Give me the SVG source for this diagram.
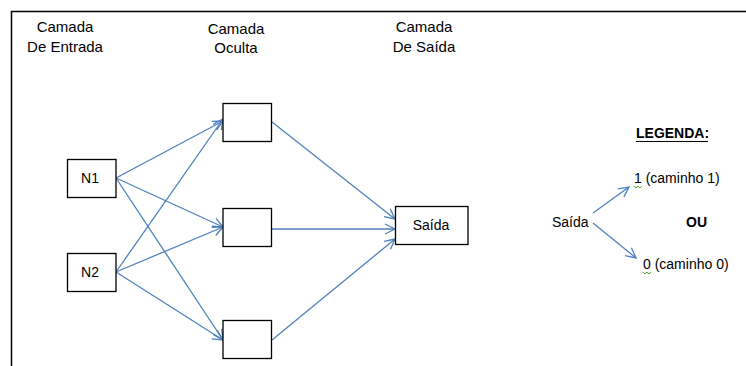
<svg xmlns="http://www.w3.org/2000/svg" width="746" height="366" viewBox="0 0 746 366">
<defs>
<style>
text{font-family:"Liberation Sans",Arial,sans-serif;font-size:14px;fill:#000}
.h{font-size:15px}
.c{text-anchor:middle}
.b{font-weight:bold}
.box{fill:#fff;stroke:#000;stroke-width:1.3}
.edge{stroke:#4F81BD;stroke-width:1.3;fill:none;marker-end:url(#ah)}
.sq{stroke:#5AA02C;stroke-width:1;fill:none}
</style>
<marker id="ah" viewBox="0 0 12 12" refX="11" refY="6" markerWidth="12" markerHeight="12" markerUnits="userSpaceOnUse" orient="auto">
<path d="M1,1 L11,6 L1,11" fill="none" stroke="#4F81BD" stroke-width="1.3"/>
</marker>
</defs>
<rect width="746" height="366" fill="#fff"/>
<path d="M11.5,372 V11.5 H752" fill="none" stroke="#000" stroke-width="1.5"/>
<g id="headers">
<text class="c h" x="65" y="32">Camada</text>
<text class="c h" x="65" y="52">De Entrada</text>
<text class="c h" x="236" y="34">Camada</text>
<text class="c h" x="236" y="53">Oculta</text>
<text class="c h" x="424" y="32">Camada</text>
<text class="c h" x="424" y="52">De Saída</text>
</g>
<g id="connectors">
<line class="edge" x1="116" y1="178" x2="223" y2="121"/>
<line class="edge" x1="116" y1="178" x2="223" y2="227"/>
<line class="edge" x1="116" y1="178" x2="223" y2="340"/>
<line class="edge" x1="116" y1="272" x2="223" y2="119"/>
<line class="edge" x1="116" y1="272" x2="223" y2="227"/>
<line class="edge" x1="116" y1="272" x2="223" y2="340"/>
<line class="edge" x1="272" y1="122" x2="395" y2="219"/>
<line class="edge" x1="272" y1="229" x2="395" y2="229"/>
<line class="edge" x1="272" y1="340" x2="395" y2="239"/>
<line class="edge" x1="593" y1="213" x2="629" y2="187"/>
<line class="edge" x1="593" y1="223" x2="636" y2="258"/>
</g>
<g id="N1"><rect class="box" x="67.5" y="159.5" width="48.5" height="38"/><text class="c" x="90" y="183">N1</text></g>
<g id="N2"><rect class="box" x="67.5" y="253.5" width="48.5" height="38"/><text class="c" x="90" y="277">N2</text></g>
<g id="H1"><rect class="box" x="223" y="103.5" width="48.5" height="38"/></g>
<g id="H2"><rect class="box" x="223" y="208.5" width="48.5" height="38"/></g>
<g id="H3"><rect class="box" x="223" y="320.5" width="48.5" height="38"/></g>
<g id="Saida"><rect class="box" x="395.5" y="206.5" width="72.5" height="38"/><text class="c" x="431" y="230" font-size="14.5">Saída</text></g>
<g id="legend">
<text class="b" x="636" y="138">LEGENDA:</text>
<line x1="636" y1="141.5" x2="708" y2="141.5" stroke="#000" stroke-width="1"/>
<text x="634" y="183" font-size="15.5">1 (caminho 1)</text>
<path class="sq" d="M634,186 l2,2 l2,-2 l2,2 l2,-2"/>
<text class="b" x="686" y="227" font-size="14.5">OU</text>
<text x="552" y="227" font-size="14.5">Saída</text>
<text x="643" y="269" font-size="15.5">0 (caminho 0)</text>
<path class="sq" d="M643,272 l2,2 l2,-2 l2,2 l2,-2"/>
</g>
</svg>
